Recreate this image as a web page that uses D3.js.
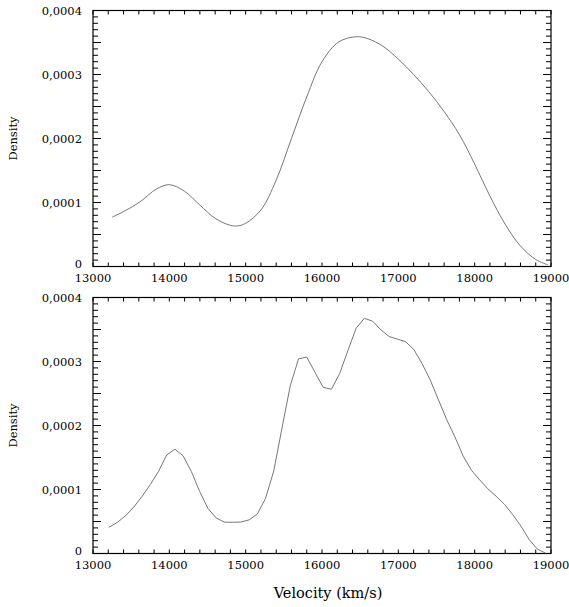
<!DOCTYPE html>
<html><head><meta charset="utf-8">
<script src="https://cdn.jsdelivr.net/npm/d3@7/dist/d3.min.js"></script>
<style>body{margin:0;background:#fff}svg{display:block}</style>
</head><body><svg id="c" width="569" height="607"></svg>
<script>
const xTicks = [13000, 14000, 15000, 16000, 17000, 18000, 19000];
const yTicks = [0, 0.0001, 0.0002, 0.0003, 0.0004];
const yTickLabels = ["0", "0,0001", "0,0002", "0,0003", "0,0004"];
const xLabel = "Velocity (km/s)";
const yLabel = "Density";

const topVelocity = [13250, 13420, 13615, 13830, 14000, 14200, 14400, 14600, 14800, 14900, 15000, 15200, 15400, 15600, 15800, 16000, 16220, 16450, 16600, 16800, 17000, 17200, 17400, 17600, 17800, 18000, 18200, 18400, 18600, 18800, 18960];
const topDensity  = [0.0000770, 0.0000870, 0.0001010, 0.0001210, 0.0001278, 0.0001175, 0.0000960, 0.0000753, 0.0000643, 0.0000635, 0.0000675, 0.0000883, 0.0001350, 0.0002000, 0.0002650, 0.0003200, 0.0003510, 0.0003590, 0.0003560, 0.0003440, 0.0003240, 0.0003000, 0.0002730, 0.0002420, 0.0002060, 0.0001600, 0.0001100, 0.0000660, 0.0000320, 0.0000110, 0.0000025];

const botVelocity = [13210, 13318, 13426, 13534, 13642, 13750, 13857, 13965, 14073, 14181, 14289, 14397, 14505, 14613, 14721, 14829, 14936, 15044, 15152, 15260, 15368, 15476, 15584, 15692, 15800, 15908, 16015, 16123, 16231, 16339, 16447, 16555, 16663, 16771, 16879, 16987, 17094, 17202, 17310, 17418, 17526, 17634, 17742, 17850, 17958, 18066, 18173, 18281, 18389, 18497, 18605, 18713, 18821, 18929];
const botDensity  = [0.0000410, 0.0000485, 0.0000590, 0.0000725, 0.0000890, 0.0001075, 0.0001280, 0.0001540, 0.0001630, 0.0001525, 0.0001280, 0.0000970, 0.0000705, 0.0000555, 0.0000490, 0.0000488, 0.0000492, 0.0000525, 0.0000615, 0.0000860, 0.0001290, 0.0001960, 0.0002620, 0.0003040, 0.0003070, 0.0002830, 0.0002597, 0.0002566, 0.0002810, 0.0003170, 0.0003520, 0.0003675, 0.0003630, 0.0003495, 0.0003390, 0.0003350, 0.0003310, 0.0003190, 0.0002970, 0.0002710, 0.0002400, 0.0002090, 0.0001820, 0.0001520, 0.0001300, 0.0001150, 0.0001010, 0.0000895, 0.0000770, 0.0000610, 0.0000430, 0.0000220, 0.0000070, 0.0000005];

const FONT = "DejaVu Serif";
const svg = d3.select("#c");
const L = 93, R = 551;
const panels = [
  {top: 10.5, bottom: 266.5, vx: topVelocity, vy: topDensity, curve: d3.curveCatmullRom},
  {top: 297.5, bottom: 553.5, vx: botVelocity, vy: botDensity, curve: d3.curveLinear}
];
const x = d3.scaleLinear().domain([13000, 19000]).range([L, R]);
const xMinor = d3.range(13000, 19001, 200);
const yAll = d3.range(0, 41).map(i => i * 0.00001);

panels.forEach(p => {
  const y = d3.scaleLinear().domain([0, 0.0004]).range([p.bottom, p.top]);
  const g = svg.append("g");
  yAll.forEach((v, i) => {
    const yy = y(v);
    const len = (i % 5 === 0) ? 8 : 5;
    g.append("rect").attr("x", L).attr("y", yy - 0.5).attr("width", len).attr("height", 1).attr("fill", "#000");
    g.append("rect").attr("x", R - len).attr("y", yy - 0.5).attr("width", len).attr("height", 1).attr("fill", "#000");
  });
  xMinor.forEach(v => {
    const xx = x(v);
    g.append("rect").attr("x", xx - 0.5).attr("y", p.bottom - 4).attr("width", 1).attr("height", 4).attr("fill", "#000");
    g.append("rect").attr("x", xx - 0.5).attr("y", p.top).attr("width", 1).attr("height", 4).attr("fill", "#000");
  });
  g.append("rect").attr("x", L).attr("y", p.top).attr("width", R - L).attr("height", p.bottom - p.top)
    .attr("fill", "none").attr("stroke", "#000").attr("stroke-width", 1.2);
  yTicks.forEach((v, i) => {
    g.append("text").attr("x", 82).attr("y", y(v) + (v === 0 ? 1 : 4))
      .attr("text-anchor", "end").style("font-family", FONT).attr("font-size", 11.5).attr("fill", "#000")
      .text(yTickLabels[i]);
  });
  xTicks.forEach(v => {
    g.append("text").attr("x", x(v)).attr("y", p.bottom + 15)
      .attr("text-anchor", "middle").style("font-family", FONT).attr("font-size", 11.5).attr("fill", "#000")
      .text(String(v));
  });
  g.append("text").attr("transform", `translate(17,${(p.top + p.bottom) / 2}) rotate(-90)`)
    .attr("text-anchor", "middle").style("font-family", FONT).attr("font-size", 11.5).attr("fill", "#000").text(yLabel);
  const pts = p.vx.map((v, i) => [v, p.vy[i]]);
  const line = d3.line().x(d => x(d[0])).y(d => y(d[1])).curve(p.curve);
  g.append("path").attr("d", line(pts)).attr("fill", "none").attr("stroke", "#777").attr("stroke-width", 1);
});

svg.append("text").attr("x", 328).attr("y", 598).attr("text-anchor", "middle")
  .style("font-family", FONT).attr("font-size", 14.5).attr("fill", "#000").text(xLabel);
</script></body></html>
